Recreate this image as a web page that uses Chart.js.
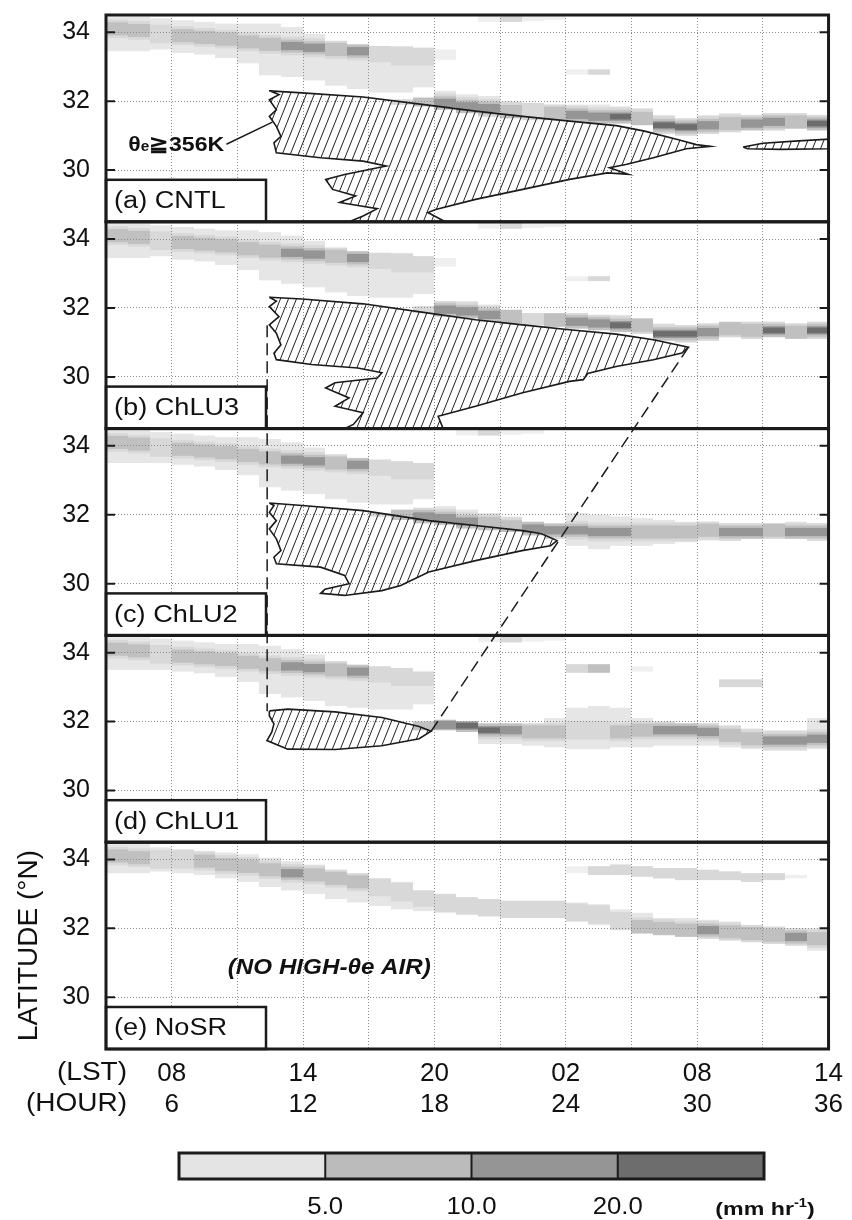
<!DOCTYPE html>
<html>
<head>
<meta charset="utf-8">
<script src="https://cdn.jsdelivr.net/npm/chart.js@4.4.1/dist/chart.umd.min.js"></script>
<style>
  html, body { margin: 0; padding: 0; background: #fff; }
  canvas { display: block; }
</style>
</head>
<body>
<canvas id="chart" width="852" height="1220" style="width:852px;height:1220px"></canvas>
<script>
// --- axes ---
const hourTicks = [3, 6, 9, 12, 15, 18, 21, 24, 27, 30, 33, 36];
const hourLabels = [6, 12, 18, 24, 30, 36];
const lstLabels = ['08', '14', '20', '02', '08', '14'];
const latTicks = [30, 32, 34];
const latMin = 28.5, latMax = 34.5;

// --- colour bar (mm/hr) ---
const rainColors = ['#e4e4e4', '#bbbbbb', '#959595', '#6d6d6d'];
const rainLabels = ['5.0', '10.0', '20.0'];

// rain band columns: [hour, latLow, latHigh, coreLat, level]  (level 0 = faint)
const northA = [
  [3, 33.45, 34.45, 34.1, 2], [4, 33.45, 34.45, 34.05, 2], [5, 33.5, 34.4, 33.95, 1], [6, 33.4, 34.35, 33.9, 2],
  [7, 33.35, 34.3, 33.85, 2], [8, 33.25, 34.25, 33.8, 2], [9, 33.1, 34.25, 33.72, 2], [10, 32.75, 34.25, 33.65, 2],
  [11, 32.7, 34.15, 33.6, 3], [12, 32.6, 33.95, 33.55, 3], [13, 32.45, 33.75, 33.5, 2], [14, 32.35, 33.65, 33.45, 3],
  [15, 32.25, 33.6, 33.4, 1], [16, 32.25, 33.6, 33.3, 1], [17, 32.4, 33.55, 33.3, 1], [18, 33.2, 33.5, 33.3, 0],
  [20, 34.3, 34.5, 34.4, 0], [21, 34.3, 34.5, 34.4, 1], [22, 34.32, 34.5, 34.4, 0], [23, 34.35, 34.5, 34.4, 0],
  [24, 32.77, 32.92, 32.85, 0], [25, 32.77, 32.92, 32.85, 1]
];
const southA = [
  [16, 31.9, 32.05, 31.98, 1], [17, 31.85, 32.1, 31.95, 2], [18, 31.75, 32.3, 31.95, 3], [19, 31.65, 32.2, 31.85, 3],
  [20, 31.55, 32.15, 31.8, 3], [21, 31.5, 32.0, 31.7, 2], [22, 31.45, 31.95, 31.7, 1], [23, 31.45, 31.9, 31.65, 2],
  [24, 31.4, 31.9, 31.6, 3], [25, 31.35, 31.9, 31.55, 3], [26, 31.35, 31.85, 31.55, 4], [27, 31.3, 31.8, 31.5, 2],
  [28, 31.05, 31.6, 31.3, 4], [29, 31.0, 31.5, 31.25, 4], [30, 31.05, 31.6, 31.3, 3], [31, 31.1, 31.65, 31.35, 2],
  [32, 31.15, 31.6, 31.35, 3], [33, 31.15, 31.65, 31.4, 3], [34, 31.2, 31.65, 31.4, 2], [35, 31.15, 31.6, 31.35, 4]
];
const northB = [
  [3, 33.45, 34.45, 34.1, 2], [4, 33.45, 34.45, 34.05, 2], [5, 33.5, 34.4, 33.95, 1], [6, 33.4, 34.35, 33.9, 2],
  [7, 33.35, 34.3, 33.85, 2], [8, 33.25, 34.25, 33.8, 2], [9, 33.1, 34.25, 33.72, 2], [10, 32.8, 34.2, 33.65, 2],
  [11, 32.7, 34.1, 33.6, 3], [12, 32.6, 33.95, 33.55, 3], [13, 32.45, 33.75, 33.5, 2], [14, 32.35, 33.65, 33.45, 3],
  [15, 32.3, 33.6, 33.4, 1], [16, 32.3, 33.6, 33.3, 1], [17, 32.4, 33.5, 33.3, 1], [18, 33.2, 33.45, 33.3, 0],
  [20, 34.3, 34.5, 34.4, 0], [21, 34.3, 34.5, 34.4, 1], [22, 34.32, 34.5, 34.4, 0], [23, 34.35, 34.5, 34.4, 0],
  [24, 32.78, 32.92, 32.85, 0], [25, 32.78, 32.92, 32.85, 1]
];
const southB = [
  [17, 31.85, 32.05, 31.95, 1], [18, 31.75, 32.2, 31.95, 3], [19, 31.7, 32.2, 31.9, 3], [20, 31.6, 32.1, 31.8, 3],
  [21, 31.55, 31.95, 31.75, 2], [22, 31.5, 31.85, 31.65, 1], [23, 31.45, 31.85, 31.65, 2], [24, 31.4, 31.85, 31.6, 3],
  [25, 31.35, 31.8, 31.55, 3], [26, 31.3, 31.8, 31.5, 4], [27, 31.25, 31.7, 31.5, 2], [28, 31.05, 31.55, 31.25, 4],
  [29, 31.0, 31.5, 31.25, 4], [30, 31.05, 31.55, 31.3, 3], [31, 31.15, 31.6, 31.4, 2], [32, 31.1, 31.6, 31.35, 2],
  [33, 31.15, 31.6, 31.35, 4], [34, 31.1, 31.55, 31.3, 2], [35, 31.1, 31.6, 31.35, 4]
];
const northC = [
  [3, 33.5, 34.45, 34.1, 2], [4, 33.5, 34.45, 34.05, 2], [5, 33.5, 34.4, 33.95, 1], [6, 33.45, 34.35, 33.9, 2],
  [7, 33.4, 34.3, 33.85, 2], [8, 33.3, 34.25, 33.8, 2], [9, 33.15, 34.25, 33.72, 2], [10, 32.8, 34.2, 33.65, 2],
  [11, 32.7, 34.1, 33.6, 3], [12, 32.6, 33.95, 33.55, 3], [13, 32.45, 33.75, 33.5, 2], [14, 32.35, 33.65, 33.45, 3],
  [15, 32.3, 33.6, 33.4, 1], [16, 32.3, 33.55, 33.3, 1], [17, 32.45, 33.5, 33.3, 1],
  [19, 34.3, 34.5, 34.4, 0], [20, 34.3, 34.5, 34.4, 1], [21, 34.32, 34.5, 34.4, 0], [22, 34.35, 34.5, 34.4, 0]
];
const southC = [
  [15, 31.95, 32.05, 31.98, 1], [16, 31.85, 32.15, 31.95, 2], [17, 31.75, 32.2, 31.95, 3], [18, 31.7, 32.25, 31.9, 3],
  [19, 31.6, 32.15, 31.8, 3], [20, 31.55, 32.05, 31.75, 2], [21, 31.5, 31.95, 31.65, 2], [22, 31.4, 31.8, 31.6, 3],
  [23, 31.3, 31.75, 31.55, 3], [24, 31.1, 32.05, 31.55, 3], [25, 31.0, 32.0, 31.5, 3], [26, 31.1, 31.95, 31.5, 3],
  [27, 31.1, 31.9, 31.5, 2], [28, 31.15, 31.85, 31.5, 2], [29, 31.2, 31.8, 31.5, 2], [30, 31.25, 31.8, 31.55, 2],
  [31, 31.25, 31.75, 31.5, 3], [32, 31.3, 31.75, 31.5, 3], [33, 31.3, 31.75, 31.55, 2], [34, 31.3, 31.8, 31.5, 3],
  [35, 31.25, 31.75, 31.5, 3]
];
const northD = [
  [3, 33.5, 34.45, 34.1, 2], [4, 33.5, 34.45, 34.05, 2], [5, 33.5, 34.4, 33.95, 1], [6, 33.45, 34.35, 33.9, 2],
  [7, 33.4, 34.3, 33.85, 2], [8, 33.3, 34.25, 33.8, 2], [9, 33.15, 34.25, 33.72, 2], [10, 32.8, 34.2, 33.65, 2],
  [11, 32.7, 34.1, 33.6, 3], [12, 32.6, 33.95, 33.55, 3], [13, 32.45, 33.75, 33.5, 2], [14, 32.4, 33.65, 33.45, 3],
  [15, 32.35, 33.6, 33.4, 1], [16, 32.35, 33.55, 33.3, 1], [17, 32.5, 33.45, 33.3, 1],
  [20, 34.3, 34.5, 34.4, 0], [21, 34.3, 34.5, 34.4, 1], [22, 34.32, 34.5, 34.4, 0], [23, 34.35, 34.5, 34.4, 0],
  [24, 33.42, 33.66, 33.55, 1], [25, 33.42, 33.66, 33.55, 2], [27, 33.45, 33.6, 33.5, 0],
  [31, 33.0, 33.22, 33.1, 1], [32, 33.0, 33.22, 33.1, 1]
];
const southD = [
  [17, 31.75, 32.0, 31.85, 2], [18, 31.75, 32.05, 31.9, 3], [19, 31.7, 32.0, 31.88, 4], [20, 31.35, 31.95, 31.75, 4],
  [21, 31.35, 31.95, 31.75, 3], [22, 31.3, 31.95, 31.7, 2], [23, 31.25, 32.1, 31.7, 2], [24, 31.2, 32.4, 31.75, 1],
  [25, 31.2, 32.45, 31.75, 1], [26, 31.25, 32.4, 31.7, 2], [27, 31.25, 32.1, 31.75, 2], [28, 31.3, 32.0, 31.75, 3],
  [29, 31.3, 31.95, 31.75, 3], [30, 31.3, 31.95, 31.7, 3], [31, 31.25, 31.9, 31.6, 2], [32, 31.2, 31.8, 31.5, 2],
  [33, 31.15, 31.75, 31.45, 3], [34, 31.15, 31.75, 31.45, 3], [35, 31.2, 32.1, 31.5, 3]
];
const northE = [
  [3, 33.6, 34.45, 34.1, 2], [4, 33.6, 34.45, 34.05, 2], [5, 33.65, 34.35, 34.0, 1], [6, 33.6, 34.3, 34.0, 1],
  [7, 33.55, 34.25, 33.95, 2], [8, 33.45, 34.2, 33.85, 2], [9, 33.35, 34.15, 33.8, 2], [10, 33.2, 34.05, 33.7, 2],
  [11, 33.1, 33.95, 33.6, 3], [12, 33.0, 33.85, 33.55, 2], [13, 32.85, 33.7, 33.45, 2], [14, 32.75, 33.6, 33.35, 2],
  [15, 32.65, 33.45, 33.2, 1], [16, 32.55, 33.35, 33.05, 1], [17, 32.5, 33.1, 32.9, 1], [18, 32.45, 33.0, 32.75, 1],
  [19, 32.4, 32.9, 32.65, 1], [20, 32.35, 32.85, 32.6, 1], [21, 32.3, 32.8, 32.55, 1], [22, 32.3, 32.8, 32.55, 1],
  [23, 32.3, 32.8, 32.55, 1], [24, 32.2, 32.75, 32.45, 1], [25, 32.1, 32.7, 32.4, 1], [26, 31.95, 32.55, 32.2, 1],
  [27, 31.85, 32.45, 32.05, 2], [28, 31.8, 32.3, 32.0, 2], [29, 31.75, 32.3, 31.95, 2], [30, 31.7, 32.25, 31.95, 3],
  [31, 31.65, 32.2, 31.9, 2], [32, 31.6, 32.1, 31.85, 2], [33, 31.55, 32.05, 31.8, 2], [34, 31.5, 32.0, 31.75, 3],
  [35, 31.35, 32.0, 31.7, 2]
];
const southE = [
  [24, 33.6, 33.8, 33.7, 0], [25, 33.55, 33.8, 33.7, 1], [26, 33.55, 33.85, 33.7, 1], [27, 33.5, 33.8, 33.65, 1],
  [28, 33.45, 33.75, 33.6, 1], [29, 33.4, 33.75, 33.6, 1], [30, 33.4, 33.7, 33.55, 1], [31, 33.4, 33.65, 33.5, 1],
  [32, 33.35, 33.6, 33.5, 1], [33, 33.4, 33.6, 33.5, 1], [34, 33.45, 33.55, 33.5, 0]
];

// high-theta_e (>= 356 K) regions: [hour, lat]
const highA = [
  [10.46, 32.30], [11.96, 32.24], [14.74, 32.12], [17.53, 31.90], [19.88, 31.71], [22.03, 31.56], [24.17, 31.42],
  [26.31, 31.29], [27.6, 31.13], [29.1, 30.89], [29.96, 30.74], [30.6, 30.69], [29.5, 30.62], [28.0, 30.36],
  [26.74, 30.16], [26.0, 30.07], [26.85, 29.88], [25.9, 29.92], [24.17, 29.73], [22.03, 29.44], [19.88, 29.15],
  [18.06, 28.86], [17.7, 28.77], [18.5, 28.5], [14.1, 28.5], [14.74, 28.67], [15.39, 28.88], [13.67, 29.06],
  [14.4, 29.25], [13.35, 29.44], [13.03, 29.73], [13.9, 29.87], [15.8, 30.12], [14.74, 30.26], [12.8, 30.36],
  [10.78, 30.50], [10.67, 30.79], [10.99, 30.98], [10.78, 31.27], [10.46, 31.56], [10.78, 31.75], [10.46, 32.04],
  [10.9, 32.19], [10.46, 32.30]
];
const highA2 = [
  [32.1, 30.67], [33.0, 30.78], [34.45, 30.84], [36, 30.9], [36, 30.62], [33.8, 30.6], [32.3, 30.62], [32.1, 30.67]
];
const highB = [
  [10.46, 32.31], [11.96, 32.26], [14.74, 32.12], [17.74, 31.85], [19.88, 31.66], [22.03, 31.51], [24.17, 31.37],
  [26.3, 31.24], [28.0, 31.08], [29.6, 30.86], [29.3, 30.69], [28.0, 30.5], [26.3, 30.3], [25.0, 30.1],
  [24.8, 29.92], [24.17, 29.87], [22.03, 29.54], [19.88, 29.15], [18.17, 28.86], [18.4, 28.5], [13.9, 28.5],
  [14.3, 28.62], [14.74, 28.96], [13.46, 29.15], [14.1, 29.39], [13.03, 29.68], [13.46, 29.83], [15.39, 29.97],
  [15.6, 30.12], [14.5, 30.26], [12.39, 30.36], [10.78, 30.5], [10.67, 30.69], [10.99, 30.93], [10.78, 31.27],
  [10.46, 31.51], [10.9, 31.75], [10.46, 32.04], [10.78, 32.2], [10.46, 32.31]
];
const highC = [
  [10.46, 32.34], [11.96, 32.27], [14.74, 32.12], [17.74, 31.83], [19.88, 31.69], [22.03, 31.54], [22.9, 31.45],
  [23.6, 31.25], [23.3, 31.1], [22.0, 30.96], [19.88, 30.67], [17.74, 30.34], [16.46, 29.95], [15.6, 29.8],
  [13.9, 29.66], [12.8, 29.72], [13.0, 29.84], [14.1, 30.0], [13.9, 30.24], [12.8, 30.48], [10.78, 30.58],
  [10.67, 30.77], [10.99, 30.96], [10.78, 31.3], [10.46, 31.59], [10.78, 31.83], [10.46, 32.07], [10.67, 32.27],
  [10.46, 32.34]
];
const highD = [
  [10.46, 32.31], [11.3, 32.36], [13.46, 32.28], [15.6, 32.12], [17.3, 31.86], [17.85, 31.72], [17.3, 31.5],
  [15.6, 31.3], [13.46, 31.19], [11.3, 31.2], [10.35, 31.45], [10.57, 31.69], [10.67, 31.93], [10.46, 32.17],
  [10.46, 32.31]
];

// dashed guide lines: [axis, hour, lat]
const guideVertical = [['yb', 10.36, 31.5], ['yd', 10.36, 32.3]];
const guideDiagonal = [['yd', 17.85, 31.72], ['yb', 29.6, 30.86]];

const panels = [
  { axis: 'ya', label: '(a) CNTL', rain: [northA, southA], high: [highA, highA2] },
  { axis: 'yb', label: '(b) ChLU3', rain: [northB, southB], high: [highB] },
  { axis: 'yc', label: '(c) ChLU2', rain: [northC, southC], high: [highC] },
  { axis: 'yd', label: '(d) ChLU1', rain: [northD, southD], high: [highD] },
  { axis: 'ye', label: '(e) NoSR', rain: [northE, southE], high: [] }
];

const FONT = '"Liberation Sans", Arial, Helvetica, sans-serif';
const INK = '#1b1b1b';

// hatch pattern for the high-theta_e air
function makeHatch() {
  const c = document.createElement('canvas');
  c.width = 8; c.height = 20;
  const g = c.getContext('2d');
  g.strokeStyle = '#222';
  g.lineWidth = 1;
  [-8, 0, 8].forEach(dx => {
    g.beginPath();
    g.moveTo(dx, 20);
    g.lineTo(dx + 8, 0);
    g.stroke();
  });
  return g.createPattern(c, 'repeat');
}
const hatch = makeHatch();

// text stretched sideways like the original figure
function wideText(ctx, text, x, y, font, align, sx) {
  ctx.save();
  ctx.font = font;
  ctx.textAlign = align;
  ctx.translate(x, y);
  ctx.scale(sx, 1);
  ctx.fillText(text, 0, 0);
  ctx.restore();
}

function drawRain(ctx, chart, axisId, rows) {
  const xs = chart.scales.x, ys = chart.scales[axisId];
  ctx.save();
  ctx.beginPath();
  ctx.rect(xs.left, ys.top, xs.width, ys.height);
  ctx.clip();
  rows.forEach(([h, lo, hi, core, lvl]) => {
    const x0 = Math.round(xs.getPixelForValue(h));
    const x1 = Math.round(xs.getPixelForValue(h + 1));
    const band = (a, b, color) => {
      const top = ys.getPixelForValue(Math.min(b, hi));
      const bot = ys.getPixelForValue(Math.max(a, lo));
      if (bot > top) {
        ctx.fillStyle = color;
        ctx.fillRect(x0, top, x1 - x0, bot - top);
      }
    };
    band(lo, hi, lvl === 0 ? '#efefef' : '#e6e6e6');
    if (lvl >= 1) band(core - 0.27, core + 0.27, '#d8d8d8');
    if (lvl >= 2) band(core - 0.19, core + 0.19, '#c0c0c0');
    if (lvl >= 3) band(core - 0.12, core + 0.12, rainColors[2]);
    if (lvl >= 4) band(core - 0.08, core + 0.08, rainColors[3]);
  });
  ctx.restore();
}

function guidePoint(chart, [axis, h, lat]) {
  return [chart.scales.x.getPixelForValue(h), chart.scales[axis].getPixelForValue(lat)];
}

const panelPlugin = {
  id: 'panelDecor',
  beforeDraw(chart) {
    const ctx = chart.ctx;
    panels.forEach(p => p.rain.forEach(rows => drawRain(ctx, chart, p.axis, rows)));
  },
  afterDraw(chart) {
    const ctx = chart.ctx;
    const xs = chart.scales.x;
    const L = xs.left, R = xs.right;

    // dashed guides
    ctx.save();
    ctx.strokeStyle = INK;
    ctx.lineWidth = 1.5;
    ctx.setLineDash([12, 6]);
    [guideVertical, guideDiagonal].forEach(g => {
      const a = guidePoint(chart, g[0]), b = guidePoint(chart, g[1]);
      ctx.beginPath();
      ctx.moveTo(a[0], a[1]);
      ctx.lineTo(b[0], b[1]);
      ctx.stroke();
    });
    ctx.restore();

    panels.forEach(p => {
      const ys = chart.scales[p.axis];
      // panel label box
      ctx.save();
      ctx.fillStyle = '#fff';
      ctx.fillRect(L, ys.bottom - 42, 160, 42);
      ctx.strokeStyle = INK;
      ctx.lineWidth = 2.5;
      ctx.strokeRect(L, ys.bottom - 42, 160, 42);
      ctx.fillStyle = '#111';
      ctx.textBaseline = 'middle';
      wideText(ctx, p.label, L + 8, ys.bottom - 20, '23px ' + FONT, 'left', 1.18);
      ctx.restore();

      // inward ticks
      ctx.save();
      ctx.strokeStyle = INK;
      ctx.lineWidth = 2;
      latTicks.forEach(v => {
        const y = ys.getPixelForValue(v);
        ctx.beginPath();
        ctx.moveTo(L, y); ctx.lineTo(L + 9, y);
        ctx.moveTo(R, y); ctx.lineTo(R - 9, y);
        ctx.stroke();
      });
      // frame
      ctx.lineWidth = 3;
      ctx.strokeRect(L, ys.top, R - L, ys.bottom - ys.top);
      ctx.restore();
    });

    // annotation in panel a
    const ya = chart.scales.ya;
    ctx.save();
    ctx.strokeStyle = INK;
    ctx.lineWidth = 1.5;
    ctx.beginPath();
    ctx.moveTo(xs.getPixelForValue(8.5), ya.getPixelForValue(30.75));
    ctx.lineTo(xs.getPixelForValue(10.6), ya.getPixelForValue(31.39));
    ctx.stroke();
    ctx.fillStyle = '#111';
    ctx.textBaseline = 'alphabetic';
    const parts = [['θ', 'bold 21px ' + FONT, 0], ['e', 'bold 14px ' + FONT, 0], ['≧356K', 'bold 21px ' + FONT, 0]];
    const sxa = 1.1;
    let total = 0;
    parts.forEach(pt => { ctx.font = pt[1]; pt[2] = ctx.measureText(pt[0]).width; total += pt[2]; });
    ctx.translate(xs.getPixelForValue(8.4) - total * sxa, ya.getPixelForValue(30.78) + 8);
    ctx.scale(sxa, 1);
    let tx = 0;
    parts.forEach(pt => { ctx.font = pt[1]; ctx.fillText(pt[0], tx, 0); tx += pt[2]; });
    ctx.restore();

    // annotation in panel e
    const ye = chart.scales.ye;
    ctx.save();
    ctx.fillStyle = '#111';
    ctx.textBaseline = 'middle';
    wideText(ctx, '(NO HIGH-θe AIR)', xs.getPixelForValue(13.2), ye.getPixelForValue(30.84),
      'italic bold 22px ' + FONT, 'center', 1.1);
    ctx.restore();

    // y title
    ctx.save();
    ctx.fillStyle = '#111';
    ctx.font = '28px ' + FONT;
    ctx.textAlign = 'center';
    ctx.textBaseline = 'middle';
    ctx.translate(29, (ye.top + ye.bottom) / 2);
    ctx.rotate(-Math.PI / 2);
    ctx.fillText('LATITUDE (°N)', 0, 0);
    ctx.restore();

    // x row titles
    ctx.save();
    ctx.fillStyle = '#111';
    ctx.textBaseline = 'middle';
    wideText(ctx, '(LST)', 127, 1073, '25px ' + FONT, 'right', 1.12);
    wideText(ctx, '(HOUR)', 127, 1104, '25px ' + FONT, 'right', 1.12);
    ctx.restore();

    // colour bar
    const cbL = 179, cbR = 764, cbT = 1153, cbB = 1179;
    const segW = (cbR - cbL) / rainColors.length;
    ctx.save();
    rainColors.forEach((c, i) => {
      ctx.fillStyle = c;
      ctx.fillRect(cbL + i * segW, cbT, segW, cbB - cbT);
    });
    ctx.strokeStyle = INK;
    ctx.lineWidth = 2;
    for (let i = 1; i < rainColors.length; i++) {
      ctx.beginPath();
      ctx.moveTo(cbL + i * segW, cbT);
      ctx.lineTo(cbL + i * segW, cbB);
      ctx.stroke();
    }
    ctx.lineWidth = 3;
    ctx.strokeRect(cbL, cbT, cbR - cbL, cbB - cbT);
    ctx.fillStyle = '#111';
    ctx.textBaseline = 'middle';
    rainLabels.forEach((t, i) => wideText(ctx, t, cbL + (i + 1) * segW, 1208, '23px ' + FONT, 'center', 1.12));

    // unit label with superscript
    const su = 1.22;
    ctx.textAlign = 'left';
    ctx.textBaseline = 'alphabetic';
    const uParts = [['(mm hr', 'bold 19px ' + FONT, 0, 0], ['-1', 'bold 12px ' + FONT, -8, 0], [')', 'bold 19px ' + FONT, 0, 0]];
    let uw = 0;
    uParts.forEach(pt => { ctx.font = pt[1]; pt[3] = ctx.measureText(pt[0]).width; uw += pt[3]; });
    ctx.translate(765 - uw * su / 2, 1215);
    ctx.scale(su, 1);
    let ux = 0;
    uParts.forEach(pt => { ctx.font = pt[1]; ctx.fillText(pt[0], ux, pt[2]); ux += pt[3]; });
    ctx.restore();
  }
};

// datasets: hatched polygons per panel
const datasets = [];
panels.forEach(p => {
  p.high.forEach(poly => {
    datasets.push({
      data: poly.map(([x, y]) => ({ x, y })),
      yAxisID: p.axis,
      showLine: true,
      fill: 'shape',
      backgroundColor: hatch,
      borderColor: INK,
      borderWidth: 1.6,
      pointRadius: 0,
      tension: 0
    });
  });
});

function latAxis() {
  return {
    type: 'linear',
    position: 'left',
    stack: 'lat',
    stackWeight: 1,
    min: latMin,
    max: latMax,
    afterBuildTicks: s => { s.ticks = latTicks.map(v => ({ value: v })); },
    afterFit: s => { s.width = 106; },
    ticks: { color: '#111', font: { family: FONT, size: 25 }, padding: 0 },
    grid: { color: '#8c8c8c', lineWidth: 1, drawTicks: true, tickLength: 16, tickColor: 'rgba(0,0,0,0)' },
    border: { display: false, dash: [1, 2] }
  };
}

// stacked axes are placed bottom-up, so the lowest panel comes first
new Chart(document.getElementById('chart'), {
  type: 'scatter',
  data: { datasets },
  options: {
    responsive: false,
    animation: false,
    devicePixelRatio: 1,
    layout: { padding: { top: 0, right: 20, bottom: 0, left: 0 } },
    plugins: { legend: { display: false }, tooltip: { enabled: false } },
    scales: {
      x: {
        type: 'linear',
        position: 'bottom',
        min: 3,
        max: 36,
        afterBuildTicks: s => { s.ticks = hourTicks.map(v => ({ value: v })); },
        afterFit: s => { s.height = 171; },
        ticks: {
          autoSkip: false,
          maxRotation: 0,
          padding: 9,
          color: '#111',
          font: { family: FONT, size: 26, lineHeight: 1.19 },
          callback: v => {
            const i = hourLabels.indexOf(v);
            return i < 0 ? '' : [lstLabels[i], String(hourLabels[i])];
          }
        },
        grid: { color: '#8c8c8c', lineWidth: 1, drawTicks: false },
        border: { display: false, dash: [1, 2] }
      },
      ye: latAxis(),
      yd: latAxis(),
      yc: latAxis(),
      yb: latAxis(),
      ya: latAxis()
    }
  },
  plugins: [panelPlugin]
});
</script>
</body>
</html>
